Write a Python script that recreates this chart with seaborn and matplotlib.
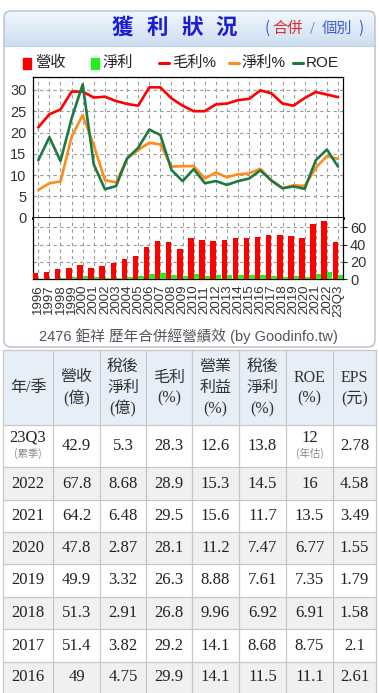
import numpy as np
import pandas as pd
import matplotlib
matplotlib.use("Agg")
import matplotlib.pyplot as plt
import seaborn as sns
from matplotlib.patches import Rectangle, FancyBboxPatch
from matplotlib.lines import Line2D

# ---------------- data ----------------
periods = [str(y) for y in range(1996, 2023)] + ["23Q3"]
revenue = [7, 8.5, 11.5, 13, 17, 13, 15.5, 19, 23, 27, 37.5, 44.5, 43.5, 34.5,
           47.5, 46, 44.5, 46, 47.5, 47.5, 49, 51.4, 51.3, 49.9, 47.8, 64.2, 67.8, 42.9]
net_income = [0.3, 0.7, 1.0, 2.4, 4.0, 2.2, 1.4, 1.6, 3.2, 4.3, 6.6, 7.6, 5.2, 4.2,
              5.7, 4.2, 4.7, 4.4, 4.8, 4.9, 4.75, 3.82, 2.91, 3.32, 2.87, 6.48, 8.68, 5.3]
gross_margin = [21.2, 24.3, 25.4, 29.6, 29.6, 28.2, 28.4, 27.4, 26.7, 26.3, 30.6, 30.6, 28.0, 26.3,
                25.0, 25.0, 26.6, 26.8, 27.6, 27.9, 29.9, 29.2, 26.8, 26.3, 28.1, 29.5, 28.9, 28.3]
net_margin = [6.5, 8.1, 8.5, 19.0, 24.1, 17.0, 8.8, 8.3, 13.9, 15.9, 17.6, 17.2, 12.0, 12.1,
              12.1, 9.2, 10.6, 9.5, 10.2, 10.4, 11.5, 8.68, 6.92, 7.61, 7.47, 11.7, 14.5, 13.8]
roe = [13.5, 18.9, 13.3, 23.3, 31.3, 12.5, 6.7, 7.4, 13.9, 16.4, 20.7, 19.4, 11.2, 8.6,
       11.4, 8.1, 8.6, 7.7, 8.6, 9.2, 11.1, 8.75, 6.91, 7.35, 6.77, 13.5, 16, 12]

upper_ticks = [0, 5, 10, 15, 20, 25, 30]
lower_ticks = [0, 20, 40, 60]

table_headers = [["年/季"], ["營收", "(億)"], ["稅後", "淨利", "(億)"], ["毛利", "(%)"],
                 ["營業", "利益", "(%)"], ["稅後", "淨利", "(%)"], ["ROE", "(%)"], ["EPS", "(元)"]]
table_periods = ["23Q3", "2022", "2021", "2020", "2019", "2018", "2017", "2016"]
tbl_rev = ["42.9", "67.8", "64.2", "47.8", "49.9", "51.3", "51.4", "49"]
tbl_ni = ["5.3", "8.68", "6.48", "2.87", "3.32", "2.91", "3.82", "4.75"]
tbl_gm = ["28.3", "28.9", "29.5", "28.1", "26.3", "26.8", "29.2", "29.9"]
tbl_om = ["12.6", "15.3", "15.6", "11.2", "8.88", "9.96", "14.1", "14.1"]
tbl_nm = ["13.8", "14.5", "11.7", "7.47", "7.61", "6.92", "8.68", "11.5"]
tbl_roe = ["12", "16", "13.5", "6.77", "7.35", "6.91", "8.75", "11.1"]
tbl_eps = ["2.78", "4.58", "3.49", "1.55", "1.79", "1.58", "2.1", "2.61"]

# ---------------- setup ----------------
sns.set_style("white")
plt.rcParams["font.family"] = ["Liberation Sans", "Noto Sans CJK TC", "DejaVu Sans"]
SERIF = ["Liberation Serif", "Noto Sans CJK TC", "DejaVu Sans"]
CJK = ["Noto Sans CJK TC", "DejaVu Sans"]

W, H = 379, 693
fig = plt.figure(figsize=(W / 100, H / 100), dpi=100)
fig.patch.set_facecolor("white")


def rect(x0, y0, x1, y1):
    return [x0 / W, 1 - y1 / H, (x1 - x0) / W, (y1 - y0) / H]


bg = fig.add_axes([0, 0, 1, 1])
bg.set_xlim(0, W)
bg.set_ylim(H, 0)
bg.axis("off")

# title bar gradient
grad = np.linspace(0, 1, 64)[:, None, None]
top = np.array([0.95, 0.97, 0.995])
bot = np.array([0.80, 0.87, 0.95])
img = top * (1 - grad) + bot * grad
bg.imshow(img, extent=(4, 375, 46, 11), origin="upper", aspect="auto", zorder=1)
bg.add_patch(FancyBboxPatch((4, 11), 371, 336, boxstyle="round,pad=0,rounding_size=7",
                            ec="#b4bfcc", fc="none", lw=1.0, zorder=3))
bg.plot([4, 375], [46, 46], color="#c4d2e2", lw=0.8, zorder=2)

for ch, xc in zip("獲利狀況", [122, 157, 192, 226]):
    bg.text(xc, 27, ch, family=CJK, fontsize=15.5, fontweight="bold", color="#1c1cd8",
            ha="center", va="center", zorder=4)
bg.text(267, 28, "(", family=CJK, fontsize=11, color="#3a5fd0", ha="center", va="center", zorder=4)
bg.text(288, 28, "合併", family=CJK, fontsize=11, color="#e02a2a", ha="center", va="center", zorder=4)
bg.text(312, 28, "/", family=CJK, fontsize=9, color="#7080a0", ha="center", va="center", zorder=4)
bg.text(337, 28, "個別", family=CJK, fontsize=11, color="#3a5fd0", ha="center", va="center", zorder=4)
bg.text(361, 28, ")", family=CJK, fontsize=11, color="#3a5fd0", ha="center", va="center", zorder=4)

# legend
leg_y = 63
bg.add_patch(Rectangle((22.5, 57.5), 8.5, 11, color="#ff0000", zorder=4))
bg.text(35, leg_y, "營收", fontsize=11, color="#222", ha="left", va="center", zorder=4)
bg.add_patch(Rectangle((90.5, 57.5), 8, 11, color="#22ee22", zorder=4))
bg.text(103, leg_y, "淨利", fontsize=11, color="#222", ha="left", va="center", zorder=4)
for x0, col, lab in [(159, "#ff0000", "毛利%"), (229, "#ff8c1a", "淨利%"), (293, "#1c7a40", "ROE")]:
    bg.add_line(Line2D([x0, x0 + 10], [leg_y, leg_y], color=col, lw=2.2, zorder=4))
    bg.text(x0 + 13, leg_y, lab, fontsize=11, color="#222", ha="left", va="center", zorder=4)

# caption
bg.text(188, 336, "2476 鉅祥 歷年合併經營績效 (by Goodinfo.tw)", fontsize=10.5,
        color="#555555", ha="center", va="center", zorder=4)

# ---------------- table ----------------
xs = [3, 53, 100, 146, 192, 239, 286, 333, 376]
ys = [350, 425, 467, 500, 532, 564, 597, 629, 662, 700]
bg.add_patch(Rectangle((xs[0], ys[0]), xs[-1] - xs[0], ys[1] - ys[0], fc="#e6eef8", ec="none", zorder=1))
for r in range(len(table_periods)):
    if r % 2 == 1:
        bg.add_patch(Rectangle((xs[0], ys[r + 1]), xs[-1] - xs[0], ys[r + 2] - ys[r + 1],
                               fc="#f0f0f0", ec="none", zorder=1))
for x in xs:
    bg.plot([x, x], [ys[0], ys[-1]], color="#c8c8c8", lw=0.9, zorder=2)
for y in ys:
    bg.plot([xs[0], xs[-1]], [y, y], color="#c8c8c8", lw=0.9, zorder=2)

centers = [(xs[i] + xs[i + 1]) / 2 for i in range(len(xs) - 1)]
for c, lines in enumerate(table_headers):
    n = len(lines)
    for i, t in enumerate(lines):
        yy = 388 + (i - (n - 1) / 2) * 21
        bg.text(centers[c], yy, t, family=SERIF, fontsize=11.5, color="#333",
                ha="center", va="center", zorder=4)

cols = [table_periods, tbl_rev, tbl_ni, tbl_gm, tbl_om, tbl_nm, tbl_roe, tbl_eps]
for r in range(len(table_periods)):
    yc = (ys[r + 1] + ys[r + 2]) / 2 if r < len(table_periods) - 1 else 677
    for c, col in enumerate(cols):
        txt = col[r]
        y_t = yc
        if r == 0 and c in (0, 6):
            y_t = 438
            sub = "(累季)" if c == 0 else "(年估)"
            bg.text(centers[c], 453.5, sub, family=CJK, fontsize=7.5, color="#888",
                    ha="center", va="center", zorder=4)
        bg.text(centers[c], y_t, txt, family=SERIF, fontsize=12, color="#222",
                ha="center", va="center", zorder=4)

# ---------------- upper chart (lines) ----------------
idx = list(range(len(periods)))
df_lines = pd.DataFrame({
    "idx": idx * 3,
    "value": gross_margin + net_margin + roe,
    "series": ["毛利%"] * len(idx) + ["淨利%"] * len(idx) + ["ROE"] * len(idx),
})
ax1 = fig.add_axes(rect(33.3, 76.7, 343, 217.7))
ax1.set_facecolor("white")
sns.lineplot(data=df_lines, x="idx", y="value", hue="series",
             hue_order=["毛利%", "淨利%", "ROE"],
             palette={"毛利%": "#ff0000", "淨利%": "#ff8c1a", "ROE": "#1c7a40"},
             linewidth=1.9, legend=False, errorbar=None, ax=ax1, zorder=3)
ax1.set_xlim(-0.45, len(periods) - 0.55)
ax1.set_ylim(0, 33.1)
ax1.set_xticks(idx)
ax1.set_yticks(upper_ticks)
ax1.set_yticklabels([str(t) for t in upper_ticks])
ax1.tick_params(axis="x", length=0, labelbottom=False)
ax1.tick_params(axis="y", length=3, direction="out", labelsize=10.5, labelcolor="#333", pad=2)
ax1.grid(True, color="#9a9a9a", linestyle=(0, (3, 3)), linewidth=0.8)
ax1.set_axisbelow(True)
ax1.set_xlabel("")
ax1.set_ylabel("")
for s in ax1.spines.values():
    s.set_color("black")
    s.set_linewidth(0.9)
ax1.spines["bottom"].set_linewidth(2)

# ---------------- lower chart (bars) ----------------
df_bars = pd.DataFrame({
    "period": periods * 2,
    "value": revenue + net_income,
    "series": ["營收"] * len(periods) + ["淨利"] * len(periods),
})
ax2 = fig.add_axes(rect(33.3, 217.7, 343, 279.3))
ax2.set_facecolor("white")
sns.barplot(data=df_bars, x="period", y="value", hue="series", order=periods,
            hue_order=["營收", "淨利"], palette={"營收": "#ff0000", "淨利": "#22ee22"},
            saturation=1, width=0.98, errorbar=None, legend=False, linewidth=0, ax=ax2, zorder=3)
ax2.set_xlim(-0.45, len(periods) - 0.55)
ax2.set_ylim(0, 71.2)
ax2.yaxis.tick_right()
ax2.set_yticks(lower_ticks)
ax2.set_yticklabels([str(t) for t in lower_ticks])
ax2.tick_params(axis="y", length=3, direction="out", labelsize=10.5, labelcolor="#333", pad=2)
ax2.set_xticks(idx)
ax2.set_xticklabels(periods, rotation=90)
ax2.tick_params(axis="x", length=3, direction="out", labelsize=9.5, labelcolor="#333", pad=1)
ax2.grid(True, color="#9a9a9a", linestyle=(0, (3, 3)), linewidth=0.8)
ax2.set_axisbelow(True)
ax2.set_xlabel("")
ax2.set_ylabel("")
for s in ax2.spines.values():
    s.set_color("black")
    s.set_linewidth(0.9)
ax2.spines["top"].set_visible(False)

fig.savefig("out.png", dpi=100, facecolor="white")
